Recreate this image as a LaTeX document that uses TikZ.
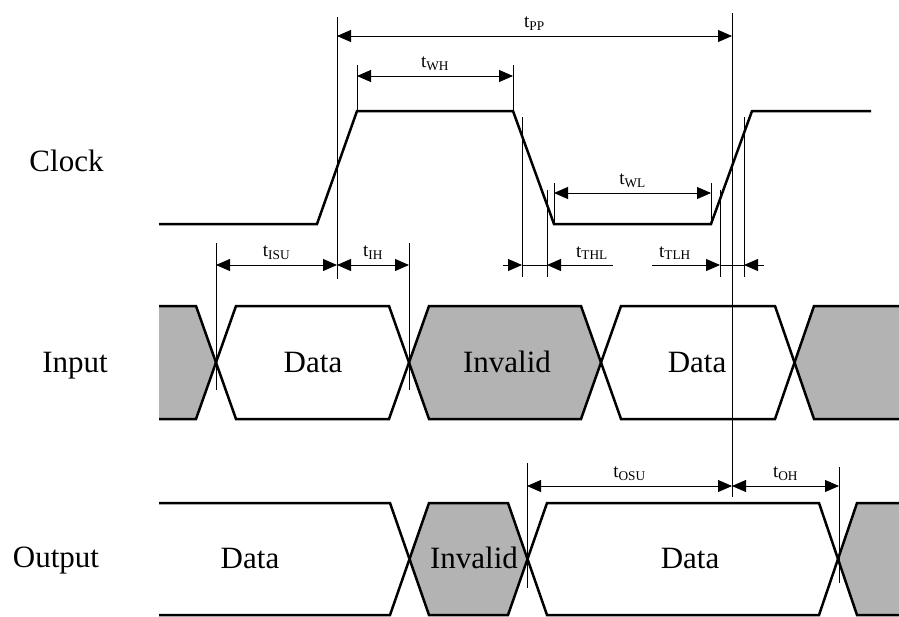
\documentclass[tikz,border=0pt]{standalone}
\usepackage{fontspec}
\setmainfont{Liberation Serif}
\usepackage{tikz}
\usetikzlibrary{arrows.meta}
\definecolor{invalidgray}{RGB}{179,179,179}
\newcommand{\tsub}[1]{t\textsubscript{#1}}
\tikzset{>={Triangle[length=14pt,width=12pt]},
         wave/.style={line width=2.5pt},
         guide/.style={line width=0.9pt},
         dim/.style={line width=0.9pt},
         tlabel/.style={font=\fontsize{19}{22}\selectfont, inner sep=2pt},
         sig/.style={font=\fontsize{31}{36}\selectfont, anchor=base, inner sep=0pt}}

\begin{document}
\begin{tikzpicture}[x=1pt,y=-1pt]
        \useasboundingbox (0,0) rectangle (899,616);
        % signal names
        \node[sig] (clock) at (66.5,171.7) {Clock};
        \node[sig] (input) at (75,372.5) {Input};
        \node[sig] (output) at (56,567.5) {Output};
        % invalid regions
        \fill[invalidgray] (159,306) -- (196,306) -- (216,362.5) -- (196,419) -- (159,419) -- cycle;
        \fill[invalidgray] (409,362.5) -- (429,306) -- (581,306) -- (601,362.5) -- (581,419) -- (429,419) -- cycle;
        \fill[invalidgray] (794.5,362.5) -- (814,306) -- (899,306) -- (899,419) -- (814,419) -- cycle;
        \fill[invalidgray] (409.5,559) -- (429,503) -- (508,503) -- (527.5,559) -- (508,615) -- (429,615) -- cycle;
        \fill[invalidgray] (838,559) -- (857,503) -- (899,503) -- (899,615) -- (857,615) -- cycle;
        % guide lines
        \draw[guide] (337,17) -- (337,279);
        \draw[guide] (732,13) -- (732,497);
        \draw[guide] (357,65) -- (357,111);
        \draw[guide] (513,65) -- (513,111);
        \draw[guide] (522,117) -- (522,277);
        \draw[guide] (547,190) -- (547,277);
        \draw[guide] (554,183) -- (554,224);
        \draw[guide] (711,183) -- (711,224);
        \draw[guide] (720,190) -- (720,277);
        \draw[guide] (744,117) -- (744,277);
        \draw[guide] (216,243) -- (216,390);
        \draw[guide] (409,243) -- (409,390);
        \draw[guide] (527,463) -- (527,588);
        \draw[guide] (839,467) -- (839,583);
        % waveforms
        \draw[wave] (159,224) -- (317,224) -- (357,111) -- (513,111) -- (554,224) -- (711,224) -- (752,111) -- (871,111);
        \draw[wave] (159,306) -- (196,306) -- (236,419) -- (389,419) -- (429,306) -- (581,306) -- (621,419) -- (775,419) -- (814,306) -- (899,306);
        \draw[wave] (159,419) -- (196,419) -- (236,306) -- (389,306) -- (429,419) -- (581,419) -- (621,306) -- (775,306) -- (814,419) -- (899,419);
        \draw[wave] (159,503) -- (390,503) -- (429,615) -- (508,615) -- (547,503) -- (819,503) -- (857,615) -- (899,615);
        \draw[wave] (159,615) -- (390,615) -- (429,503) -- (508,503) -- (547,615) -- (819,615) -- (857,503) -- (899,503);
        % bus contents
        \node[sig] (indata1) at (313,372.5) {Data};
        \node[sig] (ininvalid) at (507,372.5) {Invalid};
        \node[sig] (indata2) at (697,372.5) {Data};
        \node[sig] (outdata1) at (250,568) {Data};
        \node[sig] (outinvalid) at (474,568) {Invalid};
        \node[sig] (outdata2) at (690,568) {Data};
        % timing points
        \coordinate (ppL) at (337,36);
        \coordinate (ppR) at (732,36);
        \coordinate (whL) at (357,76);
        \coordinate (whR) at (513,76);
        \coordinate (wlL) at (554,193);
        \coordinate (wlR) at (711,193);
        \coordinate (isuL) at (216,265);
        \coordinate (isuR) at (337,265);
        \coordinate (ihR) at (409,265);
        \coordinate (thlA) at (503,265);
        \coordinate (thlB) at (522,265);
        \coordinate (thlC) at (547,265);
        \coordinate (thlD) at (613,265);
        \coordinate (tlhA) at (652,265);
        \coordinate (tlhB) at (720,265);
        \coordinate (tlhC) at (744,265);
        \coordinate (tlhD) at (764,265);
        \coordinate (osuL) at (527,486);
        \coordinate (osuR) at (732,486);
        \coordinate (ohR) at (839,486);
        % dimensions
        \draw[dim,<->] (ppL) -- (ppR) node[tlabel, midway, above=3pt] (pp) {\tsub{PP}};
        \draw[dim,<->] (whL) -- (whR) node[tlabel, midway, above=3pt] (wh) {\tsub{WH}};
        \draw[dim,<->] (wlL) -- (wlR) node[tlabel, midway, above=3pt] (wl) {\tsub{WL}};
        \draw[dim,<->] (isuL) -- (isuR) node[tlabel, midway, above=3pt] (isu) {\tsub{ISU}};
        \draw[dim,<->] (isuR) -- (ihR) node[tlabel, midway, above=3pt] (ih) {\tsub{IH}};
        \draw[dim,->] (thlA) -- (thlB);
        \draw[dim] (thlB) -- (thlC);
        \draw[dim,->] (thlD) -- (thlC);
        \node[tlabel, above=3pt] (thl) at (592,265) {\tsub{THL}};
        \draw[dim,->] (tlhA) -- (tlhB);
        \draw[dim] (tlhB) -- (tlhC);
        \draw[dim,->] (tlhD) -- (tlhC);
        \node[tlabel, above=3pt] (tlh) at (675,265) {\tsub{TLH}};
        \draw[dim,<->] (osuL) -- (osuR) node[tlabel, midway, above=3pt] (osu) {\tsub{OSU}};
        \draw[dim,<->] (osuR) -- (ohR) node[tlabel, midway, above=3pt] (oh) {\tsub{OH}};
    \end{tikzpicture}
\end{document}
